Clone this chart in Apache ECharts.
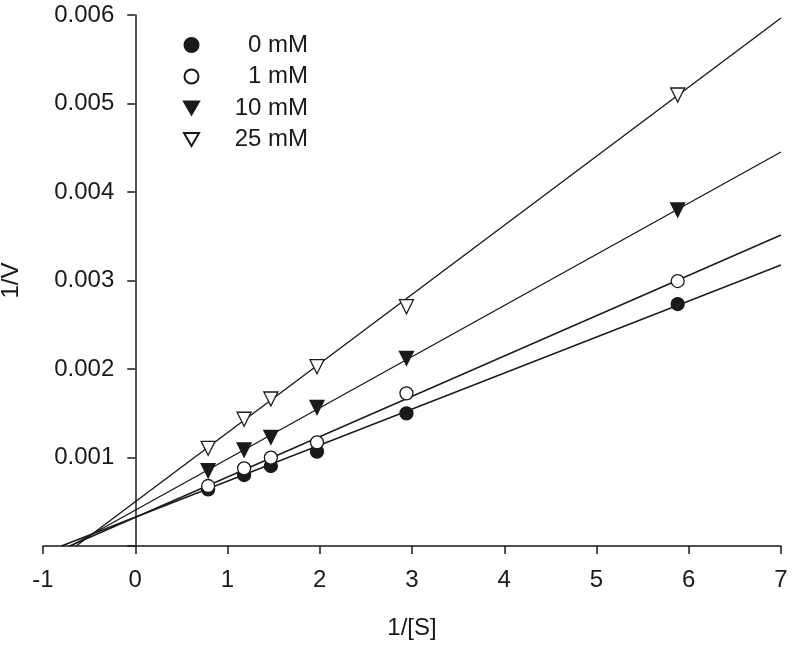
<!DOCTYPE html>
<html>
<head>
<meta charset="utf-8">
<script src="https://cdn.jsdelivr.net/npm/echarts@6/dist/echarts.min.js"></script>
<style>
html,body{margin:0;padding:0;background:#fff;}
#chart{width:794px;height:648px;}
</style>
</head>
<body>
<div id="chart"></div>
<script>
// ---- data ----
const seriesNames = ['0 mM', '1 mM', '10 mM', '25 mM'];
const xVals = [0.79, 1.18, 1.47, 1.97, 2.94, 5.88];
const y0mM  = [0.000640, 0.000802, 0.000904, 0.001066, 0.001499, 0.002734];
const y1mM  = [0.000678, 0.000877, 0.000998, 0.001171, 0.001725, 0.002994];
const y10mM = [0.000851, 0.001085, 0.001228, 0.001565, 0.002121, 0.003797];
const y25mM = [0.001104, 0.001432, 0.001661, 0.002026, 0.002704, 0.005096];
// fitted lines: start on the x-axis (x-intercept), end at x = 7
const fitStartX = [-0.80, -0.71, -0.70, -0.64];
const fitEndX = 7;
const fitEndY = [0.003175, 0.003514, 0.004452, 0.005966];
const xTicks = [-1, 0, 1, 2, 3, 4, 5, 6, 7];
const yTicks = [0, 0.001, 0.002, 0.003, 0.004, 0.005, 0.006];

const ink = '#1a1a1a';
const font = '"Liberation Sans", Arial, Helvetica, sans-serif';
const yData = [y0mM, y1mM, y10mM, y25mM];
const symbols = ['circle', 'circle', 'triangle', 'triangle'];
const rotates = [0, 0, 180, 180];
const fills = [ink, '#ffffff', ink, '#ffffff'];
const sizes = [13, 13, 14, 14];
const legendIcons = ['circle', 'circle', 'path://M0,0 L14,0 L7,12 Z', 'path://M0,0 L14,0 L7,12 Z'];

const gridLeft = 43, gridRight = 13;
const gridWidth = 794 - gridLeft - gridRight;
// place the y axis at x = 0 (shift from the grid's left edge)
const yAxisOffset = -gridWidth * (0 - xTicks[0]) / (xTicks[xTicks.length - 1] - xTicks[0]);

const series = [];
// lines first (drawn below markers)
for (let i = 0; i < 4; i++) {
  series.push({
    name: 'fit ' + seriesNames[i],
    type: 'line',
    data: [[fitStartX[i], 0], [fitEndX, fitEndY[i]]],
    showSymbol: false,
    symbol: 'none',
    lineStyle: { color: ink, width: 1.4 },
    silent: true,
    z: 2
  });
}
for (let i = 0; i < 4; i++) {
  series.push({
    name: seriesNames[i],
    type: 'scatter',
    data: xVals.map((x, j) => [x, yData[i][j]]),
    symbol: symbols[i],
    symbolRotate: rotates[i],
    symbolSize: sizes[i],
    itemStyle: { color: fills[i], borderColor: ink, borderWidth: 1.3, opacity: 1 },
    z: 5
  });
}

const chart = echarts.init(document.getElementById('chart'), null, { renderer: 'canvas' });
chart.setOption({
  animation: false,
  backgroundColor: '#ffffff',
  textStyle: { fontFamily: font },
  grid: { left: gridLeft, right: gridRight, top: 15, bottom: 102, containLabel: false, outerBoundsMode: 'none' },
  legend: {
    data: seriesNames.map((n, i) => ({ name: n, icon: legendIcons[i] })),
    orient: 'vertical',
    left: 178,
    top: 28,
    itemWidth: 15,
    itemHeight: 14,
    itemGap: 7.5,
    formatter: name => '{a|' + name + '}',
    textStyle: {
      color: ink,
      fontFamily: font,
      fontSize: 24,
      rich: { a: { width: 104, align: 'right', fontSize: 24, lineHeight: 24, fontFamily: font, color: ink } }
    }
  },
  xAxis: {
    type: 'value',
    min: xTicks[0],
    max: xTicks[xTicks.length - 1],
    interval: 1,
    name: '1/[S]',
    nameLocation: 'middle',
    nameGap: 70,
    nameTextStyle: { color: ink, fontSize: 24, fontFamily: font },
    axisLine: { onZero: false, lineStyle: { color: ink, width: 1.5 } },
    axisTick: { show: true, inside: false, length: 8, lineStyle: { color: ink, width: 1.5 } },
    axisLabel: { color: ink, fontSize: 24, margin: 22, fontFamily: font },
    splitLine: { show: false }
  },
  yAxis: {
    type: 'value',
    position: 'left',
    offset: yAxisOffset,
    min: yTicks[0],
    max: yTicks[yTicks.length - 1],
    interval: 0.001,
    name: '1/V',
    nameLocation: 'middle',
    nameRotate: 90,
    nameGap: 112,
    nameTextStyle: { color: ink, fontSize: 24, fontFamily: font },
    axisLine: { onZero: false, lineStyle: { color: ink, width: 1.5 } },
    axisTick: { show: true, inside: false, length: 8, lineStyle: { color: ink, width: 1.5 } },
    axisLabel: {
      color: ink, fontSize: 24, margin: 21, fontFamily: font,
      formatter: v => (v === 0 ? '' : v.toFixed(3))
    },
    splitLine: { show: false }
  },
  series: series
});
</script>
</body>
</html>
